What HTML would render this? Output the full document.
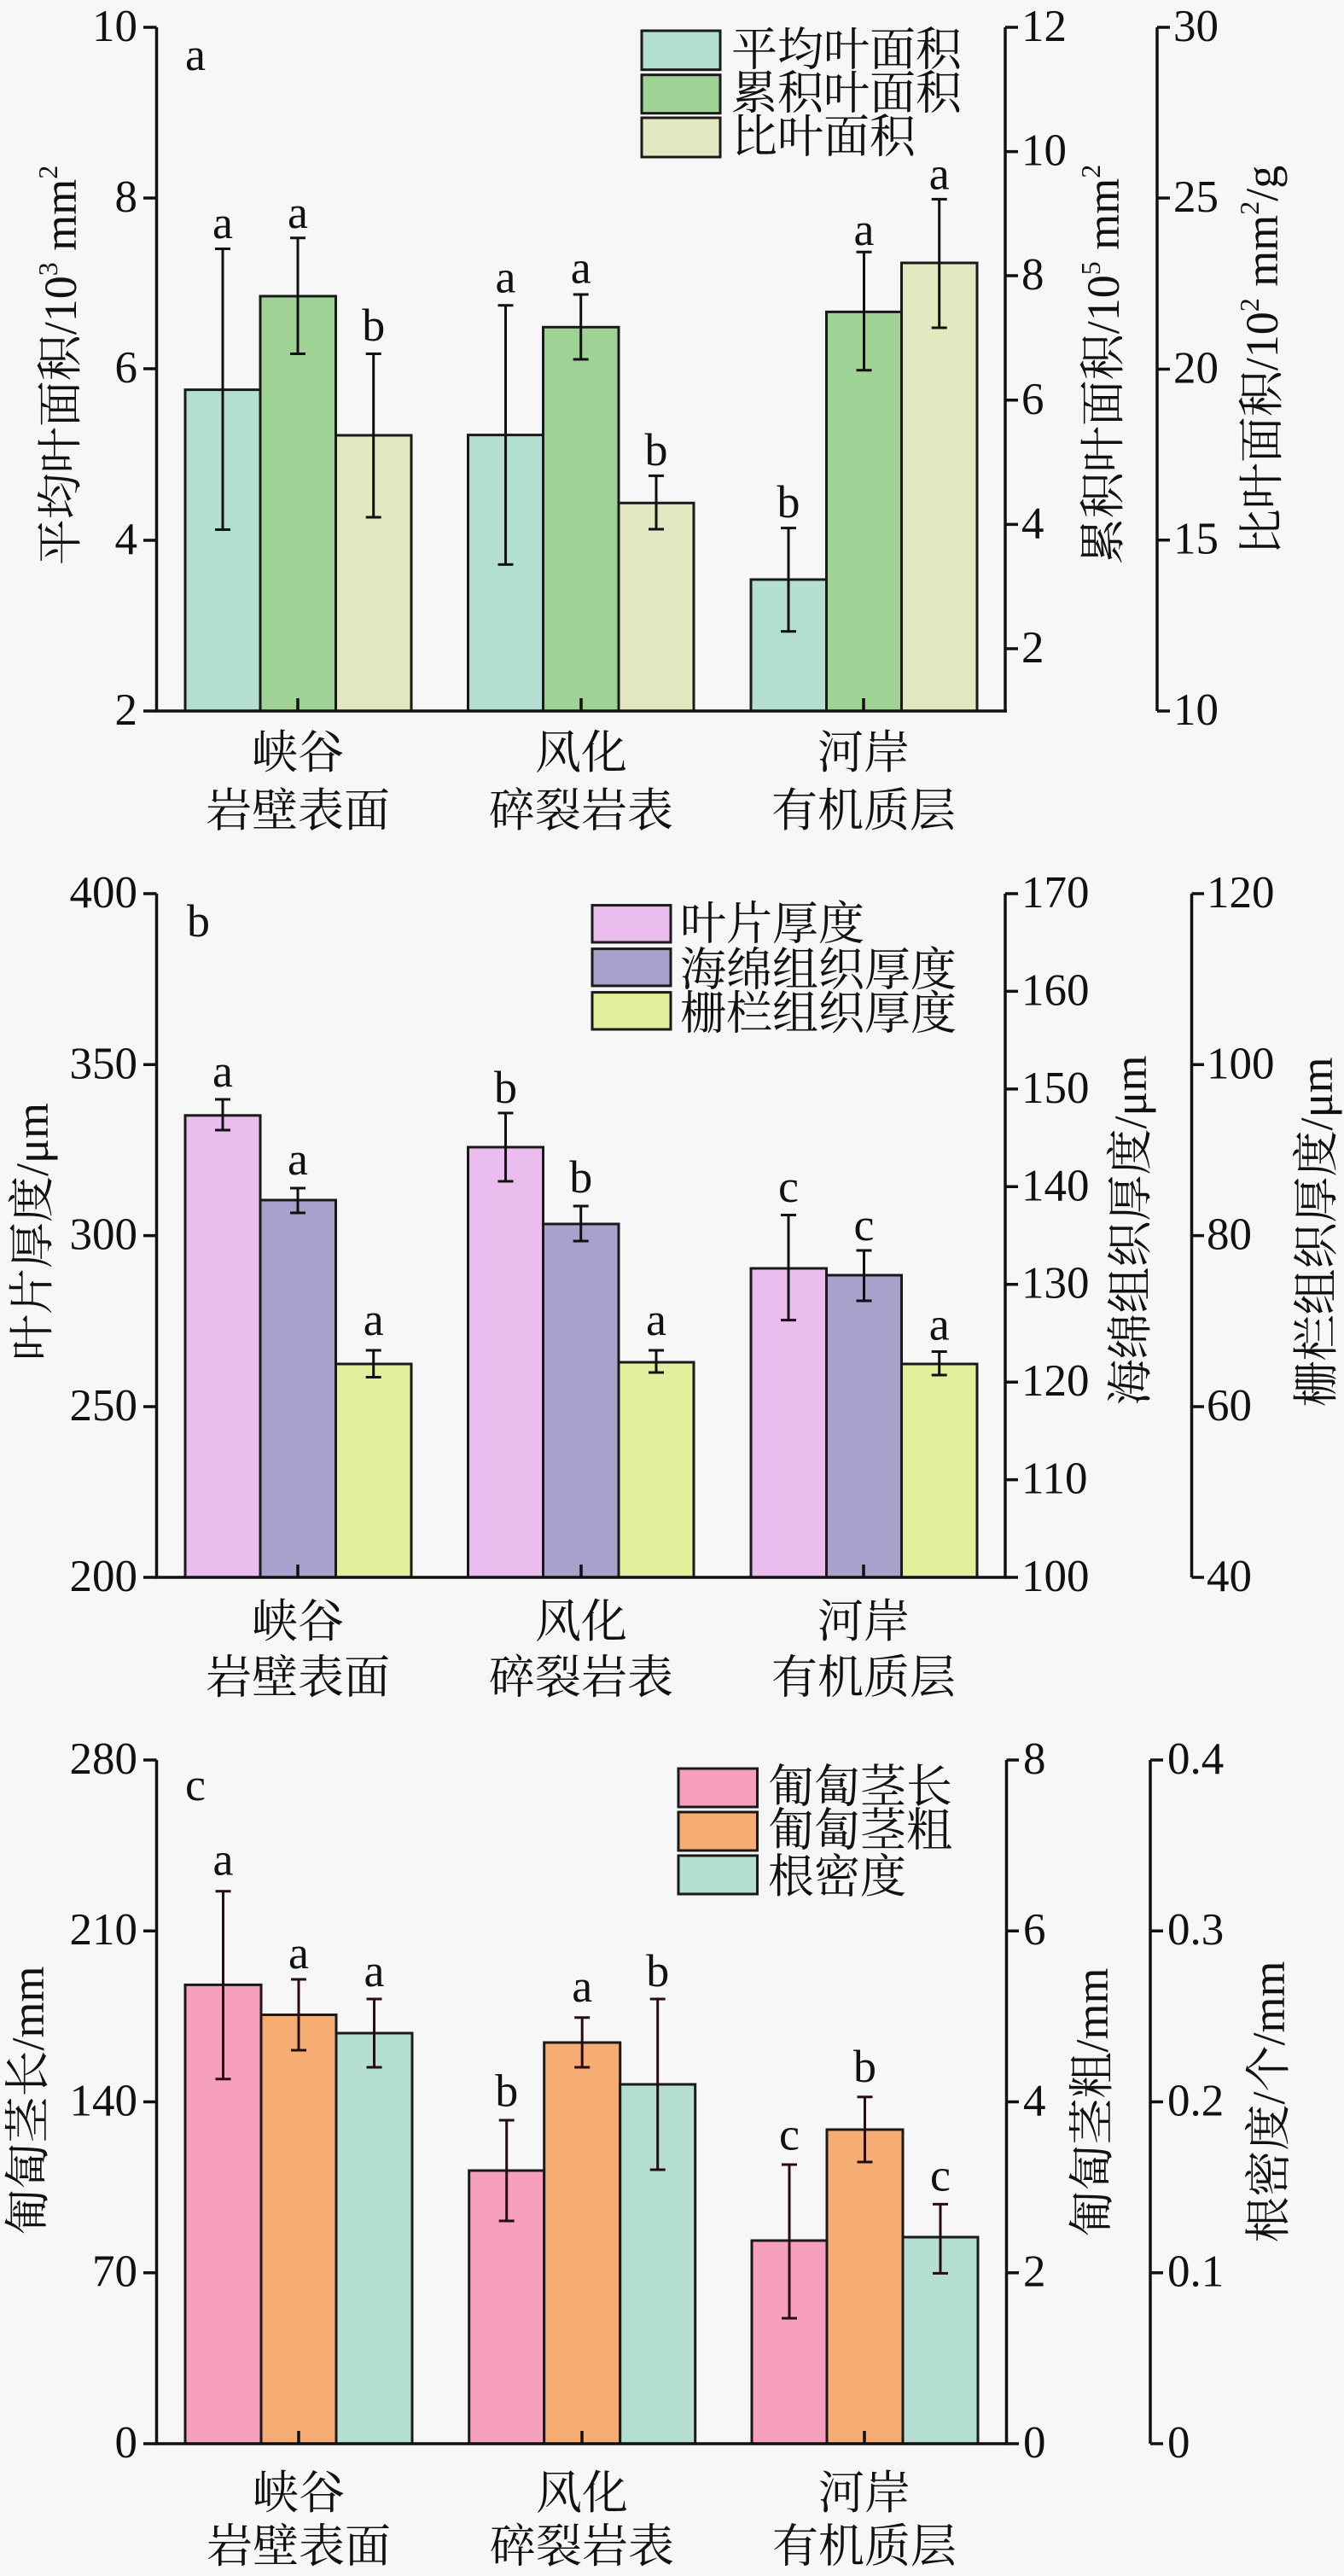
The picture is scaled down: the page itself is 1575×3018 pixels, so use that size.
<!DOCTYPE html>
<html><head><meta charset="utf-8"><style>
html,body{margin:0;padding:0;background:#f7f7f7;}
svg{display:block;}
text{font-family:"Liberation Serif","Noto Serif CJK SC",serif;fill:#111;}
</style></head><body>
<svg width="1575" height="3018" viewBox="0 0 1575 3018" xmlns="http://www.w3.org/2000/svg">
<rect width="1575" height="3018" fill="#f7f7f7"/>

<!-- ================= PANEL A ================= -->
<g stroke="#1a1a1a" stroke-width="3">
<rect x="217" y="456.6" width="88" height="376.4" fill="#b2dfd0"/>
<rect x="305" y="347" width="88.5" height="486" fill="#9fd295"/>
<rect x="393.5" y="510" width="88.5" height="323" fill="#e3e8c0"/>
<rect x="548.5" y="509.6" width="88" height="323.4" fill="#b2dfd0"/>
<rect x="636.5" y="383.3" width="88.5" height="449.7" fill="#9fd295"/>
<rect x="725" y="589.3" width="88" height="243.7" fill="#e3e8c0"/>
<rect x="880" y="679" width="88.5" height="154" fill="#b2dfd0"/>
<rect x="968.5" y="365.4" width="88" height="467.6" fill="#9fd295"/>
<rect x="1056.5" y="308" width="88.5" height="525" fill="#e3e8c0"/>
</g>
<g stroke="#111" stroke-width="3" fill="none">
<path d="M261 291.5V620.5M252 291.5H270M252 620.5H270"/>
<path d="M349 278.7V414.5M340 278.7H358M340 414.5H358"/>
<path d="M437.7 414.5V606M428.7 414.5H446.7M428.7 606H446.7"/>
<path d="M592.5 357.8V661.4M583.5 357.8H601.5M583.5 661.4H601.5"/>
<path d="M680.7 345V421M671.7 345H689.7M671.7 421H689.7"/>
<path d="M769 557.4V620M760 557.4H778M760 620H778"/>
<path d="M924 618.6V739.8M915 618.6H933M915 739.8H933"/>
<path d="M1012.5 295.3V433.7M1003.5 295.3H1021.5M1003.5 433.7H1021.5"/>
<path d="M1100.7 233.4V384M1091.7 233.4H1109.7M1091.7 384H1109.7"/>
</g>
<g font-size="54" text-anchor="middle">
<text x="261" y="279">a</text>
<text x="349" y="267">a</text>
<text x="437.7" y="399">b</text>
<text x="592.5" y="342.5">a</text>
<text x="680.7" y="331.6">a</text>
<text x="769" y="545">b</text>
<text x="924" y="606">b</text>
<text x="1012.5" y="287">a</text>
<text x="1100.7" y="221.3">a</text>
</g>
<text x="217" y="82" font-size="54">a</text>
<!-- axes -->
<g stroke="#111" stroke-width="3.5" fill="none">
<path d="M183.5 32V833M168 32H183.5M168 232H183.5M168 432H183.5M168 633H183.5M168 833H183.5"/>
<path d="M182 833H1180"/>
<path d="M349 833V818M681 833V818M1012 833V818"/>
<path d="M1178 32V833M1178 32H1193M1178 177.6H1193M1178 323H1193M1178 468.8H1193M1178 614.4H1193M1178 760H1193"/>
<path d="M1356 32V833M1356 32H1371M1356 232H1371M1356 432.5H1371M1356 632.7H1371M1356 833H1371"/>
</g>
<g font-size="53" text-anchor="end">
<text x="161" y="48">10</text>
<text x="161" y="248">8</text>
<text x="161" y="448">6</text>
<text x="161" y="649">4</text>
<text x="161" y="849">2</text>
</g>
<g font-size="53">
<text x="1197" y="48">12</text>
<text x="1197" y="193.6">10</text>
<text x="1197" y="339">8</text>
<text x="1197" y="484.8">6</text>
<text x="1197" y="630.4">4</text>
<text x="1197" y="776">2</text>
<text x="1375" y="48">30</text>
<text x="1375" y="248">25</text>
<text x="1375" y="448.5">20</text>
<text x="1375" y="648.7">15</text>
<text x="1375" y="849">10</text>
</g>
<g font-size="54" text-anchor="middle">
<text transform="translate(89,428) rotate(-90)">平均叶面积/10<tspan font-size="32" dy="-22">3</tspan><tspan dy="22"> mm</tspan><tspan font-size="32" dy="-22">2</tspan></text>
<text transform="translate(1311,427) rotate(-90)">累积叶面积/10<tspan font-size="32" dy="-22">5</tspan><tspan dy="22"> mm</tspan><tspan font-size="32" dy="-22">2</tspan></text>
<text transform="translate(1497,422) rotate(-90)">比叶面积/10<tspan font-size="32" dy="-22">2</tspan><tspan dy="22"> mm</tspan><tspan font-size="32" dy="-22">2</tspan><tspan dy="22">/g</tspan></text>
<text x="349" y="900">峡谷</text>
<text x="349" y="968">岩壁表面</text>
<text x="681" y="900">风化</text>
<text x="681" y="968">碎裂岩表</text>
<text x="1012" y="900">河岸</text>
<text x="1012" y="968">有机质层</text>
</g>
<!-- legend a -->
<g stroke="#1a1a1a" stroke-width="3">
<rect x="752" y="36" width="92" height="45.7" fill="#b2dfd0"/>
<rect x="752" y="87.7" width="92" height="45" fill="#9fd295"/>
<rect x="752" y="138" width="92" height="46" fill="#e3e8c0"/>
</g>
<g font-size="54">
<text x="857" y="76.5">平均叶面积</text>
<text x="857" y="127.5">累积叶面积</text>
<text x="857" y="178.5">比叶面积</text>
</g>

<!-- ================= PANEL B ================= -->
<g stroke="#1a1a1a" stroke-width="3">
<rect x="217" y="1306.8" width="88" height="541.2" fill="#ebbdef"/>
<rect x="305" y="1406" width="88.5" height="442" fill="#a8a1cb"/>
<rect x="393.5" y="1598" width="88.5" height="250" fill="#e3ef9c"/>
<rect x="548.5" y="1344" width="88" height="504" fill="#ebbdef"/>
<rect x="636.5" y="1434" width="88.5" height="414" fill="#a8a1cb"/>
<rect x="725" y="1596" width="88" height="252" fill="#e3ef9c"/>
<rect x="880" y="1486" width="88.5" height="362" fill="#ebbdef"/>
<rect x="968.5" y="1494" width="88" height="354" fill="#a8a1cb"/>
<rect x="1056.5" y="1598" width="88.5" height="250" fill="#e3ef9c"/>
</g>
<g stroke="#111" stroke-width="3" fill="none">
<path d="M261 1288V1324M252 1288H270M252 1324H270"/>
<path d="M349 1392V1421M340 1392H358M340 1421H358"/>
<path d="M437.7 1582V1613.5M428.7 1582H446.7M428.7 1613.5H446.7"/>
<path d="M592.5 1304V1384M583.5 1304H601.5M583.5 1384H601.5"/>
<path d="M680.7 1413V1454M671.7 1413H689.7M671.7 1454H689.7"/>
<path d="M769 1582V1608M760 1582H778M760 1608H778"/>
<path d="M924 1423.5V1546.6M915 1423.5H933M915 1546.6H933"/>
<path d="M1012.5 1465V1524M1003.5 1465H1021.5M1003.5 1524H1021.5"/>
<path d="M1100.7 1583.5V1611M1091.7 1583.5H1109.7M1091.7 1611H1109.7"/>
</g>
<g font-size="54" text-anchor="middle">
<text x="261" y="1273">a</text>
<text x="349" y="1376">a</text>
<text x="437.7" y="1564">a</text>
<text x="592.5" y="1292">b</text>
<text x="680.7" y="1397">b</text>
<text x="769" y="1564">a</text>
<text x="924" y="1408">c</text>
<text x="1012.5" y="1453">c</text>
<text x="1100.7" y="1569.5">a</text>
</g>
<text x="219" y="1097" font-size="54">b</text>
<g stroke="#111" stroke-width="3.5" fill="none">
<path d="M183.5 1047V1848M168 1047H183.5M168 1247.3H183.5M168 1447.6H183.5M168 1648H183.5M168 1848H183.5"/>
<path d="M182 1848H1180"/>
<path d="M349 1848V1833M681 1848V1833M1012 1848V1833"/>
<path d="M1178 1047V1848M1178 1047H1193M1178 1161.4H1193M1178 1275.9H1193M1178 1390.3H1193M1178 1504.7H1193M1178 1619.2H1193M1178 1733.6H1193M1178 1848H1193"/>
<path d="M1396.5 1047V1848M1396.5 1047H1411M1396.5 1247.3H1411M1396.5 1447.6H1411M1396.5 1648H1411M1396.5 1848H1411"/>
</g>
<g font-size="53" text-anchor="end">
<text x="161" y="1063">400</text>
<text x="161" y="1263.3">350</text>
<text x="161" y="1463.6">300</text>
<text x="161" y="1664">250</text>
<text x="161" y="1864">200</text>
</g>
<g font-size="53">
<text x="1197" y="1063">170</text>
<text x="1197" y="1177.4">160</text>
<text x="1197" y="1291.9">150</text>
<text x="1197" y="1406.3">140</text>
<text x="1197" y="1520.7">130</text>
<text x="1197" y="1635.2">120</text>
<text x="1197" y="1749.6">110</text>
<text x="1197" y="1864">100</text>
<text x="1414" y="1063">120</text>
<text x="1414" y="1263.3">100</text>
<text x="1414" y="1463.6">80</text>
<text x="1414" y="1664">60</text>
<text x="1414" y="1864">40</text>
</g>
<g font-size="54" text-anchor="middle">
<text transform="translate(56,1443) rotate(-90)">叶片厚度/μm</text>
<text transform="translate(1343,1441.5) rotate(-90)">海绵组织厚度/μm</text>
<text transform="translate(1561,1443.5) rotate(-90)">栅栏组织厚度/μm</text>
<text x="349" y="1918">峡谷</text>
<text x="349" y="1983.5">岩壁表面</text>
<text x="681" y="1918">风化</text>
<text x="681" y="1983.5">碎裂岩表</text>
<text x="1012" y="1918">河岸</text>
<text x="1012" y="1983.5">有机质层</text>
</g>
<g stroke="#1a1a1a" stroke-width="3">
<rect x="694" y="1060.6" width="92" height="43.4" fill="#ebbdef"/>
<rect x="694" y="1111.6" width="92" height="43.4" fill="#a8a1cb"/>
<rect x="694" y="1162.6" width="92" height="43.4" fill="#e3ef9c"/>
</g>
<g font-size="54">
<text x="797" y="1100.5">叶片厚度</text>
<text x="797" y="1154.5">海绵组织厚度</text>
<text x="797" y="1205.5">栅栏组织厚度</text>
</g>

<!-- ================= PANEL C ================= -->
<g stroke="#1a1a1a" stroke-width="3">
<rect x="217" y="2325.4" width="89" height="537.6" fill="#f6a0bb"/>
<rect x="306" y="2360.5" width="88" height="502.5" fill="#f6ad73"/>
<rect x="394" y="2382" width="89" height="481" fill="#b5dfd2"/>
<rect x="549.7" y="2543" width="88" height="320" fill="#f6a0bb"/>
<rect x="637.7" y="2393" width="89" height="470" fill="#f6ad73"/>
<rect x="726.7" y="2442" width="88" height="421" fill="#b5dfd2"/>
<rect x="881" y="2625" width="88" height="238" fill="#f6a0bb"/>
<rect x="969" y="2495" width="89" height="368" fill="#f6ad73"/>
<rect x="1058" y="2621" width="88" height="242" fill="#b5dfd2"/>
</g>
<g stroke="#2a0a14" stroke-width="3" fill="none">
<path d="M261.5 2215.7V2435.7M252.5 2215.7H270.5M252.5 2435.7H270.5"/>
<path d="M350 2319V2402M341 2319H359M341 2402H359"/>
<path d="M438.5 2342V2422M429.5 2342H447.5M429.5 2422H447.5"/>
<path d="M593.7 2484V2602M584.7 2484H602.7M584.7 2602H602.7"/>
<path d="M682.2 2363.7V2422M673.2 2363.7H691.2M673.2 2422H691.2"/>
<path d="M770.7 2342V2542M761.7 2342H779.7M761.7 2542H779.7"/>
<path d="M925 2536V2716M916 2536H934M916 2716H934"/>
<path d="M1013.5 2456.8V2533M1004.5 2456.8H1022.5M1004.5 2533H1022.5"/>
<path d="M1102 2582.4V2663.4M1093 2582.4H1111M1093 2663.4H1111"/>
</g>
<g font-size="54" text-anchor="middle">
<text x="261.5" y="2196.6">a</text>
<text x="350" y="2306">a</text>
<text x="438.5" y="2327">a</text>
<text x="593.7" y="2467.6">b</text>
<text x="682.2" y="2345">a</text>
<text x="770.7" y="2327">b</text>
<text x="925" y="2518.6">c</text>
<text x="1013.5" y="2439">b</text>
<text x="1102" y="2566.5">c</text>
</g>
<text x="217" y="2109" font-size="54">c</text>
<g stroke="#111" stroke-width="3.5" fill="none">
<path d="M183.5 2062V2863M168 2062H183.5M168 2262.2H183.5M168 2462.5H183.5M168 2662.7H183.5M168 2863H183.5"/>
<path d="M182 2863H1181"/>
<path d="M350 2863V2848M682 2863V2848M1013 2863V2848"/>
<path d="M1179.5 2062V2863M1179.5 2062H1194M1179.5 2262.2H1194M1179.5 2462.5H1194M1179.5 2662.7H1194M1179.5 2863H1194"/>
<path d="M1348 2062V2863M1348 2062H1363M1348 2262.2H1363M1348 2462.5H1363M1348 2662.7H1363M1348 2863H1363"/>
</g>
<g font-size="53" text-anchor="end">
<text x="161" y="2078">280</text>
<text x="161" y="2278.2">210</text>
<text x="161" y="2478.5">140</text>
<text x="161" y="2678.7">70</text>
<text x="161" y="2879">0</text>
</g>
<g font-size="53">
<text x="1199" y="2078">8</text>
<text x="1199" y="2278.2">6</text>
<text x="1199" y="2478.5">4</text>
<text x="1199" y="2678.7">2</text>
<text x="1199" y="2879">0</text>
<text x="1368" y="2078">0.4</text>
<text x="1368" y="2278.2">0.3</text>
<text x="1368" y="2478.5">0.2</text>
<text x="1368" y="2678.7">0.1</text>
<text x="1368" y="2879">0</text>
</g>
<g font-size="54" text-anchor="middle">
<text transform="translate(51,2461) rotate(-90)">匍匐茎长/mm</text>
<text transform="translate(1298,2463) rotate(-90)">匍匐茎粗/mm</text>
<text transform="translate(1505,2462.5) rotate(-90)">根密度/个/mm</text>
<text x="350" y="2939">峡谷</text>
<text x="350" y="3001.5">岩壁表面</text>
<text x="682" y="2939">风化</text>
<text x="682" y="3001.5">碎裂岩表</text>
<text x="1013" y="2939">河岸</text>
<text x="1013" y="3001.5">有机质层</text>
</g>
<g stroke="#1a1a1a" stroke-width="3">
<rect x="795" y="2072" width="92.5" height="45" fill="#f6a0bb"/>
<rect x="795" y="2123" width="92.5" height="45" fill="#f6ad73"/>
<rect x="795" y="2174" width="92.5" height="45" fill="#b5dfd2"/>
</g>
<g font-size="54">
<text x="900" y="2111.5">匍匐茎长</text>
<text x="900" y="2162.5">匍匐茎粗</text>
<text x="900" y="2217">根密度</text>
</g>
</svg>
</body></html>
